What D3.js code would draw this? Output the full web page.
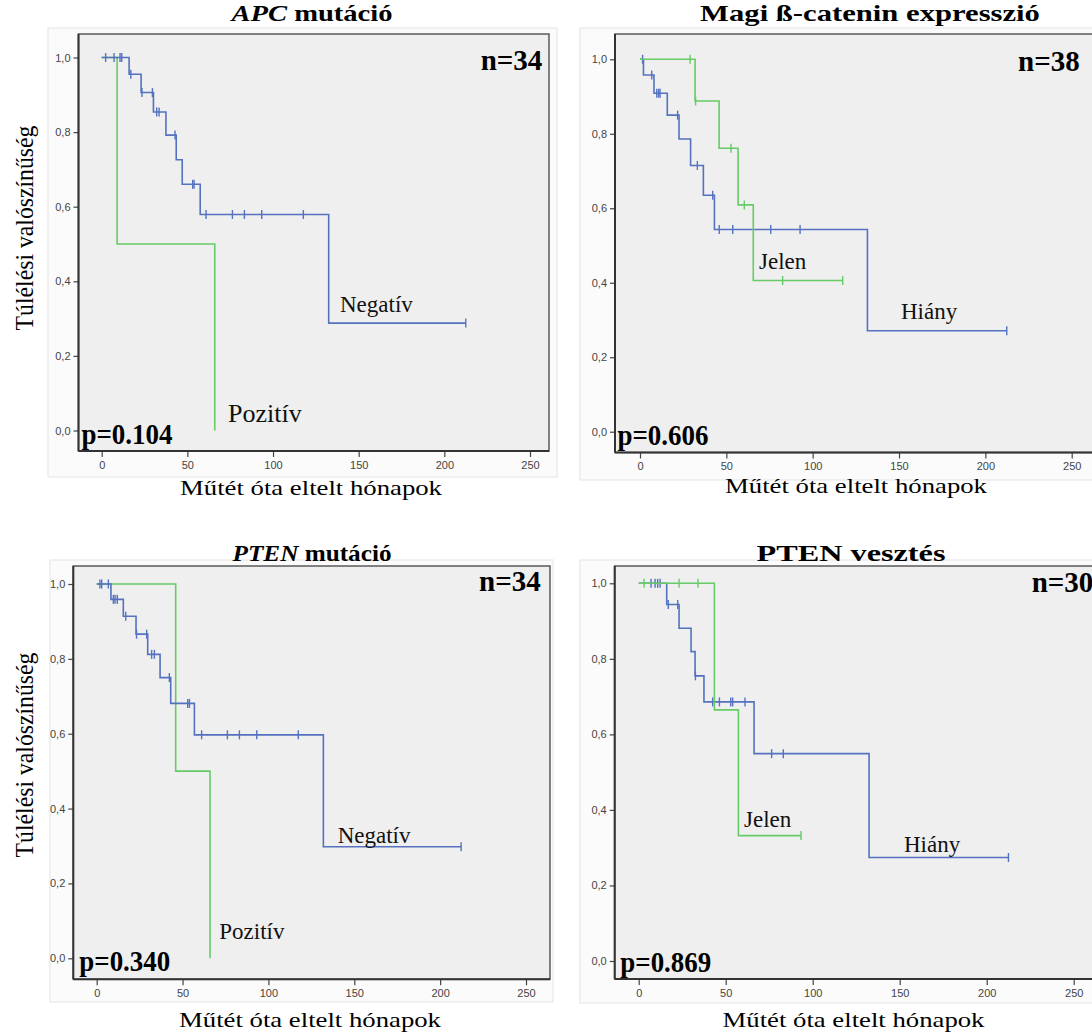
<!DOCTYPE html>
<html>
<head>
<meta charset="utf-8">
<script src="https://cdn.jsdelivr.net/npm/d3@7"></script>
<style>
body { margin: 0; background: #fff; }
svg { display: block; }
</style>
</head>
<body>
<div id="chart"></div>
<script>
// ---- data ----
const xTicks = [0, 50, 100, 150, 200, 250];
const yTicks = [0, 0.2, 0.4, 0.6, 0.8, 1.0];

// APC mutáció
const apcNegTime = [0, 16, 23, 30.2, 37.5, 43.5, 47, 57.5, 132.5];
const apcNegSurv = [1, 0.955, 0.906, 0.854, 0.792, 0.726, 0.660, 0.579, 0.288];
const apcNegEnd = 212.5;
const apcNegCens = [2.3, 7.2, 10.7, 11.7, 17, 23.5, 29.6, 32.1, 33.5, 42.8, 53.1, 53.9, 60.9, 76.3, 83.3, 93.4, 117.7, 212.5];
const apcPosTime = [0, 9, 66];
const apcPosSurv = [1, 0.5, 0];
const apcPosEnd = 66;
const apcPosCens = [];

// Magi ß-catenin expresszió
const catHiTime = [0, 2, 8.1, 15.8, 22.6, 29.3, 36.7, 43.1, 131.7];
const catHiSurv = [1, 0.958, 0.909, 0.850, 0.786, 0.715, 0.635, 0.543, 0.271];
const catHiEnd = 212.4;
const catHiCens = [1.5, 6.8, 9.7, 10.8, 11.6, 21.8, 33.2, 42.1, 45.9, 53.7, 75.7, 92.7, 212.4];
const catJeTime = [0, 31.9, 45.8, 56.8, 65.6];
const catJeSurv = [1, 0.888, 0.761, 0.609, 0.406];
const catJeEnd = 117.4;
const catJeCens = [29, 32.2, 52.7, 60.4, 82.6, 117.4];

// PTEN mutáció
const ptmNegTime = [0, 8.3, 15.5, 22.9, 29.7, 36.9, 43.1, 56.9, 132];
const ptmNegSurv = [1, 0.959, 0.914, 0.866, 0.812, 0.750, 0.681, 0.597, 0.298];
const ptmNegEnd = 212.2;
const ptmNegCens = [1.9, 2.9, 6.8, 9.7, 10.7, 12.0, 16.9, 23.2, 29.1, 32.0, 33.6, 42.3, 53.0, 54.0, 61.1, 76.1, 83.1, 93.2, 117.4, 212.2];
const ptmPosTime = [0, 46, 66];
const ptmPosSurv = [1, 0.5, 0];
const ptmPosEnd = 66;
const ptmPosCens = [];

// PTEN vesztés
const ptlHiTime = [0, 16.1, 23.2, 30.1, 32.4, 37.5, 66.3, 132.4];
const ptlHiSurv = [1, 0.944, 0.881, 0.819, 0.755, 0.686, 0.549, 0.274];
const ptlHiEnd = 212.5;
const ptlHiCens = [7.1, 9.4, 10.9, 12.3, 17.0, 22.4, 32.6, 42.5, 46.4, 52.9, 54.0, 61.1, 76.4, 83.1, 212.5];
const ptlJeTime = [0, 43.5, 57.3];
const ptlJeSurv = [1, 0.665, 0.332];
const ptlJeEnd = 93.3;
const ptlJeCens = [3.1, 23.2, 34.1, 93.3];

const serif = "'Liberation Serif', 'Times New Roman', serif";
const sans = "'Liberation Sans', Arial, sans-serif";
const blue = "#5472c0";
const green = "#66cc66";

const svg = d3.select("#chart").append("svg")
    .attr("width", 1092)
    .attr("height", 1036);

const panels = [
  {
    title: [["APC", true], [" mutáció", false]], titleX: 312, titleY: 21, titleLen: 161,
    box: {l: 78.5, r: 549, t: 34, b: 451}, frame: {l: 48, r: 557, t: 28, b: 477},
    xr: [101.7, 530], yr: [430.5, 57.5],
    ylab: [33, 228], xlab: [311, 495],
    n: "n=34", nPos: [480.7, 70], p: "p=0.104", pPos: [81.5, 444],
    greenOnTop: false,
    blueS: {t: apcNegTime, s: apcNegSurv, end: apcNegEnd, c: apcNegCens, name: "Negatív", lx: 340, ly: 312, fs: 23},
    greenS: {t: apcPosTime, s: apcPosSurv, end: apcPosEnd, c: apcPosCens, name: "Pozitív", lx: 228, ly: 422, fs: 26}
  },
  {
    title: [["Magi ß-catenin expresszió", false]], titleX: 870, titleY: 21, titleLen: 340,
    box: {l: 615, r: 1093, t: 34, b: 452.5}, frame: {l: 580, r: 1100, t: 28, b: 480},
    xr: [640, 1071.7], yr: [431.7, 59.3],
    ylab: null, xlab: [856, 493],
    n: "n=38", nPos: [1018, 71], p: "p=0.606", pPos: [617.5, 445],
    greenOnTop: true,
    blueS: {t: catHiTime, s: catHiSurv, end: catHiEnd, c: catHiCens, name: "Hiány", lx: 901, ly: 319, fs: 23},
    greenS: {t: catJeTime, s: catJeSurv, end: catJeEnd, c: catJeCens, name: "Jelen", lx: 759, ly: 269, fs: 23}
  },
  {
    title: [["PTEN", true], [" mutáció", false]], titleX: 312, titleY: 561, titleLen: 159,
    box: {l: 73.3, r: 550, t: 566, b: 979.3}, frame: {l: 50, r: 553, t: 560, b: 1002},
    xr: [96.7, 526], yr: [958.3, 584],
    ylab: [33, 755], xlab: [310, 1027],
    n: "n=34", nPos: [479, 591], p: "p=0.340", pPos: [79.3, 971],
    greenOnTop: false,
    blueS: {t: ptmNegTime, s: ptmNegSurv, end: ptmNegEnd, c: ptmNegCens, name: "Negatív", lx: 337.7, ly: 843, fs: 23},
    greenS: {t: ptmPosTime, s: ptmPosSurv, end: ptmPosEnd, c: ptmPosCens, name: "Pozitív", lx: 219.3, ly: 939, fs: 23}
  },
  {
    title: [["PTEN vesztés", false]], titleX: 851, titleY: 561, titleLen: 189,
    box: {l: 614.7, r: 1093, t: 566, b: 979}, frame: {l: 580, r: 1100, t: 560, b: 1003},
    xr: [638.7, 1073.7], yr: [961, 583.3],
    ylab: null, xlab: [853.5, 1027],
    n: "n=30", nPos: [1031.7, 592], p: "p=0.869", pPos: [620.3, 972],
    greenOnTop: true,
    blueS: {t: ptlHiTime, s: ptlHiSurv, end: ptlHiEnd, c: ptlHiCens, name: "Hiány", lx: 904, ly: 852, fs: 23},
    greenS: {t: ptlJeTime, s: ptlJeSurv, end: ptlJeEnd, c: ptlJeCens, name: "Jelen", lx: 744, ly: 827, fs: 23}
  }
];

// squeeze/stretch a centred or left text horizontally to a target width
function fitText(sel, x, y, target, extra) {
  const w = sel.node().getComputedTextLength();
  const k = target / w;
  sel.attr("transform", `translate(${x},${y}) ${extra || ""} scale(${k},1)`);
}

const fmt = d => d3.format(".1f")(d).replace(".", ",");

panels.forEach(p => {
  const g = svg.append("g");
  const x = d3.scaleLinear().domain([0, 250]).range(p.xr);
  const y = d3.scaleLinear().domain([0, 1]).range(p.yr);
  const b = p.box;

  // outer chart frame (very light)
  g.append("rect")
    .attr("x", p.frame.l).attr("y", p.frame.t)
    .attr("width", p.frame.r - p.frame.l).attr("height", p.frame.b - p.frame.t)
    .attr("fill", "#fbfbfb").attr("stroke", "#e4e4e4");

  // plot area
  g.append("rect")
    .attr("x", b.l).attr("y", b.t)
    .attr("width", b.r - b.l).attr("height", b.b - b.t)
    .attr("fill", "#efefef").attr("stroke", "#5a5a5a").attr("stroke-width", 1.5);

  // axes
  const gy = g.append("g").attr("transform", `translate(${b.l},0)`)
    .call(d3.axisLeft(y).tickValues(yTicks).tickSize(5).tickPadding(3).tickFormat(fmt));
  gy.select(".domain").remove();
  gy.selectAll("line").attr("stroke", "#444").attr("stroke-width", 1.2);
  gy.selectAll("text").attr("font-family", sans).attr("font-size", 11).attr("fill", "#444");

  const gx = g.append("g").attr("transform", `translate(0,${b.b})`)
    .call(d3.axisBottom(x).tickValues(xTicks).tickSize(6).tickPadding(4));
  gx.select(".domain").remove();
  gx.selectAll("line").attr("stroke", "#444").attr("stroke-width", 1.2);
  gx.selectAll("text").attr("font-family", sans).attr("font-size", 11).attr("fill", "#444");

  g.append("line").attr("x1", b.l).attr("x2", b.l).attr("y1", b.t).attr("y2", b.b)
    .attr("stroke", "#333").attr("stroke-width", 2);
  g.append("line").attr("x1", b.l).attr("x2", b.r).attr("y1", b.b).attr("y2", b.b)
    .attr("stroke", "#333").attr("stroke-width", 2);

  // survival curves
  const line = d3.line().x(d => x(d[0])).y(d => y(d[1])).curve(d3.curveStepAfter);
  function drawCurve(s, color) {
    const pts = s.t.map((t, i) => [t, s.s[i]]);
    pts.push([s.end, s.s[s.s.length - 1]]);
    g.append("path").attr("d", line(pts))
      .attr("fill", "none").attr("stroke", color).attr("stroke-width", 1.6);
    g.selectAll(null).data(s.c).enter().append("line")
      .attr("x1", d => x(d)).attr("x2", d => x(d))
      .attr("y1", d => y(s.s[d3.bisectRight(s.t, d) - 1]) - 4.5)
      .attr("y2", d => y(s.s[d3.bisectRight(s.t, d) - 1]) + 4.5)
      .attr("stroke", color).attr("stroke-width", 1.4);
  }
  if (p.greenOnTop) { drawCurve(p.blueS, blue); drawCurve(p.greenS, green); }
  else { drawCurve(p.greenS, green); drawCurve(p.blueS, blue); }

  [p.blueS, p.greenS].forEach(s => {
    g.append("text").attr("x", s.lx).attr("y", s.ly)
      .attr("font-family", serif).attr("font-size", s.fs).attr("fill", "#111")
      .text(s.name);
  });

  // n and p
  g.append("text").attr("x", p.nPos[0]).attr("y", p.nPos[1])
    .attr("font-family", serif).attr("font-weight", "bold").attr("font-size", 29).attr("fill", "#000")
    .text(p.n);
  const pt = g.append("text")
    .attr("font-family", serif).attr("font-weight", "bold").attr("font-size", 29).attr("fill", "#000")
    .text(p.p);
  fitText(pt, p.pPos[0], p.pPos[1], 91);

  // title
  const tt = g.append("text").attr("text-anchor", "middle")
    .attr("font-family", serif).attr("font-weight", "bold").attr("font-size", 24).attr("fill", "#000");
  p.title.forEach(part => {
    tt.append("tspan").attr("font-style", part[1] ? "italic" : "normal").text(part[0]);
  });
  fitText(tt, p.titleX, p.titleY, p.titleLen);

  // axis titles
  const xl = g.append("text").attr("text-anchor", "middle")
    .attr("font-family", serif).attr("font-size", 22).attr("fill", "#000")
    .text("Műtét óta eltelt hónapok");
  fitText(xl, p.xlab[0], p.xlab[1], 262);

  if (p.ylab) {
    const yl = g.append("text").attr("text-anchor", "middle")
      .attr("font-family", serif).attr("font-size", 25).attr("fill", "#000")
      .text("Túlélési valószínűség");
    fitText(yl, p.ylab[0], p.ylab[1], 205, "rotate(-90)");
  }
});
</script>
</body>
</html>
